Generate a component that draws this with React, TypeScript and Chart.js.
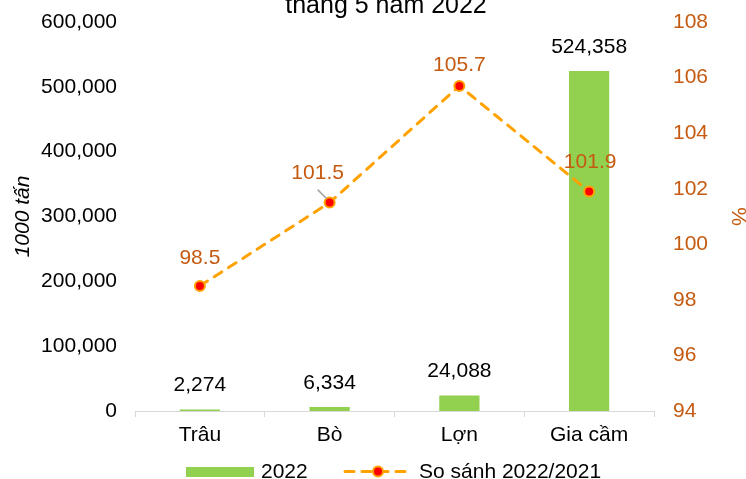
import React, { useEffect, useRef } from 'react';
import { Chart, registerables } from 'chart.js';

Chart.register(...registerables);

const FONT = "'Liberation Sans', Arial, sans-serif";

const categories = ['Trâu', 'Bò', 'Lợn', 'Gia cầm'];
const output2022 = [2274, 6334, 24088, 524358];
const ratio2022vs2021 = [98.5, 101.5, 105.7, 101.9];
const titleText = 'tháng 5 năm 2022';
const leftAxisTitle = '1000 tấn';
const rightAxisTitle = '%';
const legendLabels = ['2022', 'So sánh 2022/2021'];
const leftAxisRange = { min: 0, max: 600000, step: 100000 };
const rightAxisRange = { min: 94, max: 108, step: 2 };

const GREEN = '#92D050';
const ORANGE = '#FFA200';
const LABEL_ORANGE = '#C55A11';

// label placement relative to each line point (style only)
const lineLabelShift = [
  { dx: 0, dy: -28 },
  { dx: -12, dy: -29 },
  { dx: 0, dy: -21 },
  { dx: 1, dy: -29 },
];

const fmt = (v: number) => v.toLocaleString('en-US');

const customPlugin = {
  id: 'customDraw',
  afterDatasetsDraw(chart: any) {
    const ctx = chart.ctx;
    ctx.save();
    ctx.font = `21px ${FONT}`;
    ctx.textAlign = 'center';
    ctx.textBaseline = 'middle';
    ctx.fillStyle = '#000';
    const barMeta = chart.getDatasetMeta(0);
    barMeta.data.forEach((el: any, i: number) => {
      ctx.fillText(fmt(output2022[i]), el.x, el.y - 24);
    });
    const lineMeta = chart.getDatasetMeta(1);
    lineMeta.data.forEach((el: any, i: number) => {
      const s = lineLabelShift[i];
      if (Math.abs(s.dx) > 5) {
        ctx.strokeStyle = '#A6A6A6';
        ctx.lineWidth = 1.5;
        ctx.beginPath();
        ctx.moveTo(el.x - 12, el.y - 13);
        ctx.lineTo(el.x - 3, el.y - 4);
        ctx.stroke();
      }
      ctx.fillStyle = LABEL_ORANGE;
      ctx.fillText(ratio2022vs2021[i].toFixed(1), el.x + s.dx, el.y + s.dy);
    });
    ctx.restore();
  },
  afterDraw(chart: any) {
    const ctx = chart.ctx;
    ctx.save();
    // title (top part cut off, as in the reference)
    ctx.font = `25px ${FONT}`;
    ctx.fillStyle = '#000';
    ctx.textAlign = 'center';
    ctx.textBaseline = 'alphabetic';
    ctx.fillText(titleText, 386, 13);

    // legend
    ctx.fillStyle = GREEN;
    ctx.fillRect(186, 467, 68, 10);
    ctx.fillStyle = '#000';
    ctx.font = `21px ${FONT}`;
    ctx.textAlign = 'left';
    ctx.fillText(legendLabels[0], 261, 478);

    ctx.strokeStyle = ORANGE;
    ctx.lineWidth = 3;
    ctx.lineCap = 'round';
    ctx.setLineDash([9, 8]);
    ctx.beginPath();
    ctx.moveTo(345, 471.5);
    ctx.lineTo(412, 471.5);
    ctx.stroke();
    ctx.setLineDash([]);
    ctx.beginPath();
    ctx.arc(378, 471.5, 5, 0, Math.PI * 2);
    ctx.fillStyle = '#FF0000';
    ctx.fill();
    ctx.lineWidth = 2;
    ctx.stroke();

    ctx.fillStyle = '#000';
    ctx.fillText(legendLabels[1], 419, 478);
    ctx.restore();
  },
};

export default function App() {
  const ref = useRef<HTMLCanvasElement | null>(null);

  useEffect(() => {
    if (!ref.current) return;
    Chart.defaults.font.family = FONT;
    const chart = new Chart(ref.current, {
      type: 'bar',
      data: {
        labels: categories,
        datasets: [
          {
            type: 'bar',
            label: legendLabels[0],
            data: output2022,
            backgroundColor: GREEN,
            borderWidth: 0,
            yAxisID: 'y',
            categoryPercentage: 1,
            barPercentage: 0.31,
            order: 2,
          },
          {
            type: 'line',
            label: legendLabels[1],
            data: ratio2022vs2021,
            yAxisID: 'y1',
            borderColor: ORANGE,
            borderWidth: 3,
            borderDash: [9, 8],
            borderCapStyle: 'round',
            pointRadius: 5,
            pointBorderWidth: 2,
            pointBackgroundColor: '#FF0000',
            pointBorderColor: ORANGE,
            tension: 0,
            fill: false,
            order: 1,
          } as any,
        ],
      },
      options: {
        responsive: false,
        animation: false,
        layout: { padding: { top: 22, bottom: 31, left: 0, right: 0 } },
        plugins: {
          legend: { display: false },
          title: { display: false },
          tooltip: { enabled: false },
        },
        scales: {
          x: {
            grid: {
              display: true,
              drawOnChartArea: false,
              drawTicks: true,
              tickLength: 6,
              color: '#D9D9D9',
              offset: true,
            },
            border: { display: true, color: '#D9D9D9', width: 1 },
            ticks: { font: { size: 21 }, color: '#000', padding: 6 },
            afterFit: (s: any) => {
              s.height = 37;
            },
          },
          y: {
            position: 'left',
            min: leftAxisRange.min,
            max: leftAxisRange.max,
            grid: { display: false, drawTicks: true, tickLength: 18 },
            border: { display: false },
            ticks: {
              stepSize: leftAxisRange.step,
              font: { size: 21 },
              color: '#000',
              padding: 0,
              callback: (v: any) => fmt(Number(v)),
            },
            title: {
              display: true,
              text: leftAxisTitle,
              color: '#000',
              font: { size: 21, style: 'italic', lineHeight: 1.2 },
              padding: { top: 11, bottom: 0 },
            },
            afterFit: (s: any) => {
              s.width = 135;
            },
          },
          y1: {
            position: 'right',
            min: rightAxisRange.min,
            max: rightAxisRange.max,
            grid: { display: false, drawTicks: true, tickLength: 19 },
            border: { display: false },
            ticks: {
              stepSize: rightAxisRange.step,
              font: { size: 21 },
              color: LABEL_ORANGE,
              padding: 0,
            },
            title: {
              display: true,
              text: rightAxisTitle,
              color: LABEL_ORANGE,
              font: { size: 21, lineHeight: 1 },
              padding: { top: -2, bottom: 0 },
            },
            afterFit: (s: any) => {
              s.width = 92;
            },
          },
        },
      } as any,
      plugins: [customPlugin],
    });
    return () => chart.destroy();
  }, []);

  return (
    <div style={{ position: 'absolute', left: 0, top: 0, width: 746, height: 479, background: '#fff' }}>
      <canvas ref={ref} width={746} height={479} style={{ display: 'block' }} />
    </div>
  );
}
